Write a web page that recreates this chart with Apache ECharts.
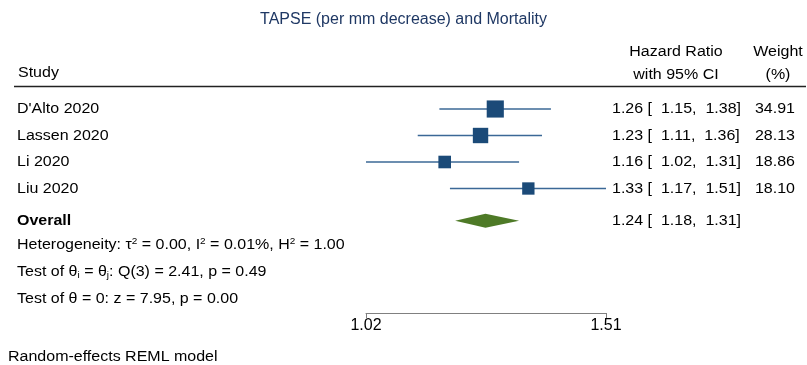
<!DOCTYPE html>
<html>
<head>
<meta charset="utf-8">
<script src="https://cdn.jsdelivr.net/npm/echarts@6/dist/echarts.min.js"></script>
<style>html,body{margin:0;padding:0;background:#fff}#c{width:807px;height:365px}</style>
</head>
<body>
<div id="c"></div>
<script>
const titleText = 'TAPSE (per mm decrease) and Mortality';
const studies = ["D'Alto 2020", 'Lassen 2020', 'Li 2020', 'Liu 2020'];
const hr = [1.26, 1.23, 1.16, 1.33];
const ciLow = [1.15, 1.11, 1.02, 1.17];
const ciHigh = [1.38, 1.36, 1.31, 1.51];
const weights = [34.91, 28.13, 18.86, 18.10];
const overallLabel = 'Overall';
const overall = [1.24, 1.18, 1.31];
const xTicks = [1.02, 1.51];
const notes = [
  '{a|Heterogeneity: τ}{p|2}{a| = 0.00, I}{p|2}{a| = 0.01%, H}{p|2}{a| = 1.00}',
  '{a|Test of θ}{s|i}{a| = θ}{s|j}{a|: Q(3) = 2.41, p = 0.49}',
  '{a|Test of θ = 0: z = 7.95, p = 0.00}'
];
const footer = 'Random-effects REML model';

const FONT = "'Liberation Sans', Arial, sans-serif";
const ROW_OVERALL = 4.22;
const ROW_NOTES = [5.12, 6.14, 7.17];

const chart = echarts.init(document.getElementById('c'), null, {renderer: 'canvas'});

const fmt = v => v.toFixed(2);
const studyData = studies.map((s, i) => [hr[i], ciLow[i], ciHigh[i], weights[i], i]);

chart.setOption({
  animation: false,
  backgroundColor: '#fff',
  title: {
    text: titleText, left: 'center', top: 7,
    textStyle: {color: '#1f3864', fontSize: 16, fontWeight: 'normal', fontFamily: FONT}
  },
  grid: {left: 366, right: 201, top: 82.5, bottom: 52},
  xAxis: {
    type: 'log', min: xTicks[0], max: xTicks[xTicks.length - 1], position: 'bottom',
    axisLine: {show: true, onZero: false, lineStyle: {color: '#808080', width: 1}},
    axisTick: {show: true, customValues: xTicks, length: 5, lineStyle: {color: '#808080'}},
    axisLabel: {show: true, customValues: xTicks, formatter: v => fmt(v), fontSize: 16, color: '#000', fontFamily: FONT, margin: 5},
    splitLine: {show: false}, minorTick: {show: false}
  },
  yAxis: {type: 'value', inverse: true, min: -1, max: 7.698, show: false},
  series: [
    {
      type: 'custom', data: studyData, encode: {x: [0, 1, 2], y: 4}, clip: false,
      renderItem: (params, api) => {
        const y = api.value(4);
        const a = api.coord([api.value(1), y]);
        const b = api.coord([api.value(2), y]);
        const c = api.coord([api.value(0), y]);
        const s = 2.9 * Math.sqrt(api.value(3));
        return {type: 'group', children: [
          {type: 'line', shape: {x1: a[0], y1: a[1], x2: b[0], y2: b[1]}, style: {stroke: '#3b6896', lineWidth: 1.3}},
          {type: 'rect', shape: {x: c[0] - s / 2, y: c[1] - s / 2, width: s, height: s}, style: {fill: '#1b4a78'}}
        ]};
      }
    },
    {
      type: 'custom', data: [[overall[0], overall[1], overall[2], ROW_OVERALL]], encode: {x: [0, 1, 2], y: 3}, clip: false,
      renderItem: (params, api) => {
        const y = api.value(3);
        const a = api.coord([api.value(1), y]);
        const b = api.coord([api.value(2), y]);
        const c = api.coord([api.value(0), y]);
        const h = 7;
        return {type: 'polygon', shape: {points: [a, [c[0], c[1] - h], b, [c[0], c[1] + h]]}, style: {fill: '#4e7a27'}};
      }
    }
  ]
});

const py = v => chart.convertToPixel({yAxisIndex: 0}, v);
const SY = 0.92;
function txt(x, y, text, align, extra) {
  return {
    type: 'text', x: x, y: y, scaleY: SY, silent: true,
    style: Object.assign({text: text, x: 0, y: 0, align: align || 'left', verticalAlign: 'middle',
      fill: '#000', fontSize: 16, fontFamily: FONT}, extra || {})
  };
}
const g = [];
g.push(txt(18, 73, 'Study'));
g.push(txt(676, 52, 'Hazard Ratio', 'center'));
g.push(txt(676, 75, 'with 95% CI', 'center'));
g.push(txt(778, 52, 'Weight', 'center'));
g.push(txt(778, 75, '(%)', 'center'));
g.push({type: 'line', silent: true, shape: {x1: 14, y1: 86.5, x2: 806, y2: 86.5}, style: {stroke: '#222', lineWidth: 1.6}});
studies.forEach((s, i) => {
  const y = py(i);
  g.push(txt(17, y, s));
  g.push(txt(612, y, fmt(hr[i]) + ' [  ' + fmt(ciLow[i]) + ',  ' + fmt(ciHigh[i]) + ']'));
  g.push(txt(795, y, fmt(weights[i]), 'right'));
});
const yo = py(ROW_OVERALL);
g.push(txt(17, yo, overallLabel, 'left', {fontWeight: 'bold'}));
g.push(txt(612, yo, fmt(overall[0]) + ' [  ' + fmt(overall[1]) + ',  ' + fmt(overall[2]) + ']'));
notes.forEach((n, i) => {
  g.push(txt(17, py(ROW_NOTES[i]), n, 'left', {
    rich: {
      a: {fontSize: 16, fontFamily: FONT, fill: '#000', lineHeight: 18},
      p: {fontSize: 10, fontFamily: FONT, fill: '#000', lineHeight: 10, verticalAlign: 'top'},
      s: {fontSize: 10, fontFamily: FONT, fill: '#000', lineHeight: 10, verticalAlign: 'bottom'}
    }
  }));
});
g.push(txt(8, 357, footer));
chart.setOption({graphic: g});
</script>
</body>
</html>
